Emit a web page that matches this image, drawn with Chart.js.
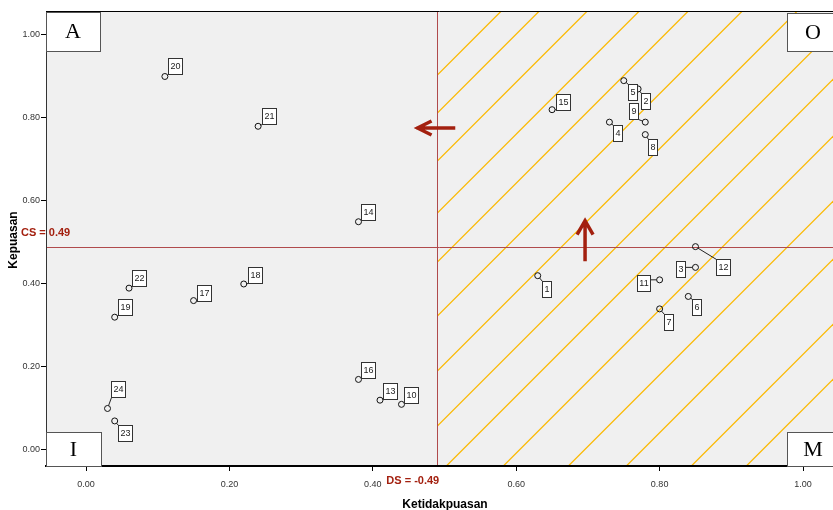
<!DOCTYPE html>
<html>
<head>
<meta charset="utf-8">
<script src="https://cdn.jsdelivr.net/npm/chart.js@4"></script>
<style>
  body { margin: 0; background: #fff; }
  #wrap { width: 833px; height: 510px; }
</style>
</head>
<body>
<div id="wrap"><canvas id="ipaChart" width="833" height="510"></canvas></div>
<script>
// attribute numbers and their scores
const atribut = ["1","2","3","4","5","6","7","8","9","10","11","12","13","14","15","16","17","18","19","20","21","22","23","24"];
const ketidakpuasan = [0.63,0.77,0.85,0.73,0.75,0.84,0.80,0.78,0.78,0.44,0.80,0.85,0.41,0.38,0.65,0.38,0.15,0.22,0.04,0.11,0.24,0.06,0.04,0.03];
const kepuasan      = [0.42,0.87,0.44,0.79,0.89,0.37,0.34,0.76,0.79,0.11,0.41,0.49,0.12,0.55,0.82,0.17,0.36,0.40,0.32,0.90,0.78,0.39,0.07,0.10];

const xTicks = [0.0, 0.2, 0.4, 0.6, 0.8, 1.0];
const yTicks = [0.0, 0.2, 0.4, 0.6, 0.8, 1.0];
const csValue = 0.49;   // horizontal cut
const dsValue = 0.49;   // vertical cut
const csText = "CS = 0.49";
const dsText = "DS = -0.49";
const quadrants = ["A", "O", "I", "M"];

// where each number box sits relative to its point (px)
const labelOffsets = {
  "1":[4,5], "2":[3,4], "3":[-19,-6], "4":[4,3], "5":[4,3], "6":[4,3], "7":[4,5], "8":[3,4],
  "9":[-16,-19], "10":[3,-17], "11":[-23,-5], "12":[21,12], "13":[3,-17], "14":[3,-18],
  "15":[4,-16], "16":[3,-17], "17":[3,-16], "18":[4,-17], "19":[3,-18], "20":[3,-18],
  "21":[4,-18], "22":[3,-18], "23":[3,4], "24":[3,-27]
};
// gaps between the hatch strokes (px), the fill pattern is not quite even
const hatchGaps = [38, 48, 52, 49, 54, 55, 55, 49, 57, 65, 58, 65, 55, 60, 60, 60];

const narrow = '"Liberation Sans Narrow", "Arial Narrow", "Liberation Sans", Arial, sans-serif';
const sans = '"Liberation Sans", Arial, sans-serif';
const red = "#a3200f";

const points = atribut.map((a, i) => ({ x: ketidakpuasan[i], y: kepuasan[i], id: a }));

const ipaPlugin = {
  id: "ipa",
  beforeDraw(chart) {
    const { ctx, chartArea: ca, scales } = chart;
    const xs = scales.x, ys = scales.y;
    ctx.save();
    ctx.fillStyle = "#f0f0f0";
    ctx.fillRect(ca.left, ca.top, ca.right - ca.left, ca.bottom - ca.top);

    // hatched "O/M" side
    const xd = xs.getPixelForValue(dsValue);
    ctx.beginPath();
    ctx.rect(xd, ca.top, ca.right - xd, ca.bottom - ca.top);
    ctx.clip();
    ctx.strokeStyle = "#fbb900";
    ctx.lineWidth = 1.3;
    let c = xd + ca.top + 63;
    for (let k = 0; k <= hatchGaps.length; k++) {
      ctx.beginPath();
      ctx.moveTo(xd - 10, c - xd + 10);
      ctx.lineTo(ca.right + 10, c - ca.right - 10);
      ctx.stroke();
      c += hatchGaps[k] || 60;
    }
    ctx.restore();

    ctx.save();
    ctx.strokeStyle = "#b04a4c";
    ctx.lineWidth = 1;
    const yc = Math.round(ys.getPixelForValue(csValue)) + 0.5;
    ctx.beginPath();
    ctx.moveTo(ca.left, yc); ctx.lineTo(ca.right, yc);
    ctx.stroke();
    const xdr = Math.round(xd) + 0.5;
    ctx.beginPath();
    ctx.moveTo(xdr, ca.top); ctx.lineTo(xdr, ca.bottom);
    ctx.stroke();
    ctx.restore();
  },
  afterDatasetsDraw(chart) {
    const { ctx, chartArea: ca, scales } = chart;
    const xs = scales.x, ys = scales.y;
    ctx.save();

    // number boxes + leader lines
    ctx.font = "9px " + sans;
    ctx.textAlign = "center";
    ctx.textBaseline = "middle";
    points.forEach(p => {
      const px = xs.getPixelForValue(p.x), py = ys.getPixelForValue(p.y);
      const off = labelOffsets[p.id] || [3, -18];
      const w = Math.round(ctx.measureText(p.id).width) + 4, h = 16;
      const bx = Math.round(px + off[0]) + 0.5, by = Math.round(py + off[1]) + 0.5;
      const nx = Math.min(Math.max(px, bx), bx + w), ny = Math.min(Math.max(py, by), by + h);
      const d = Math.hypot(nx - px, ny - py);
      if (d > 3) {
        ctx.strokeStyle = "#222";
        ctx.lineWidth = 1;
        ctx.beginPath();
        ctx.moveTo(px + (nx - px) * 3 / d, py + (ny - py) * 3 / d);
        ctx.lineTo(nx, ny);
        ctx.stroke();
      }
      ctx.fillStyle = "#fff";
      ctx.fillRect(bx, by, w, h);
      ctx.strokeStyle = "#333";
      ctx.strokeRect(bx, by, w, h);
      ctx.fillStyle = "#222";
      ctx.fillText(p.id, bx + w / 2, by + h / 2 + 0.5);
    });

    // quadrant letter boxes
    const boxes = [
      [ca.left, ca.top, 54, 39],
      [787, ca.top + 1, 60, 38],
      [ca.left, 432, 55, ca.bottom - 432],
      [787, 432, 60, ca.bottom - 432]
    ];
    ctx.font = "22px \"Liberation Serif\", \"Times New Roman\", serif";
    boxes.forEach((b, i) => {
      ctx.fillStyle = "#fff";
      ctx.fillRect(b[0] + 0.5, b[1] + 0.5, b[2], b[3]);
      ctx.strokeStyle = "#555";
      ctx.lineWidth = 1;
      ctx.strokeRect(b[0] + 0.5, b[1] + 0.5, b[2], b[3]);
      ctx.fillStyle = "#000";
      const cx = i % 2 === 0 ? b[0] + b[2] / 2 : 813;
      ctx.fillText(quadrants[i], cx, b[1] + b[3] / 2 + 1);
    });

    // arrows
    ctx.strokeStyle = red;
    ctx.lineWidth = 3.5;
    ctx.lineCap = "butt";
    const ay = ys.getPixelForValue(0.776);
    const ax0 = xs.getPixelForValue(0.515), ax1 = xs.getPixelForValue(0.461);
    ctx.beginPath();
    ctx.moveTo(ax0, ay); ctx.lineTo(ax1, ay);
    ctx.moveTo(ax1 + 15, ay - 7); ctx.lineTo(ax1 + 1, ay); ctx.lineTo(ax1 + 15, ay + 7);
    ctx.stroke();
    const ux = xs.getPixelForValue(0.696);
    const uy0 = ys.getPixelForValue(0.455), uy1 = ys.getPixelForValue(0.555);
    ctx.beginPath();
    ctx.moveTo(ux, uy0); ctx.lineTo(ux, uy1);
    ctx.moveTo(ux - 8, uy1 + 15); ctx.lineTo(ux, uy1 + 1); ctx.lineTo(ux + 8, uy1 + 15);
    ctx.stroke();

    // CS / DS captions
    ctx.fillStyle = red;
    ctx.font = "bold 11px " + narrow;
    ctx.textAlign = "left";
    ctx.fillText(csText, 21, ys.getPixelForValue(csValue) - 14);
    ctx.fillText(dsText, xs.getPixelForValue(dsValue) - 51, ca.bottom + 15);

    // top frame line
    ctx.strokeStyle = "#000";
    ctx.lineWidth = 1;
    ctx.beginPath();
    ctx.moveTo(ca.left, ca.top - 0.5); ctx.lineTo(ca.right, ca.top - 0.5);
    ctx.stroke();

    // axis titles
    ctx.fillStyle = "#000";
    ctx.font = "bold 12px " + sans;
    ctx.textAlign = "center";
    ctx.fillText("Ketidakpuasan", 445, 505);
    ctx.translate(14, 240);
    ctx.rotate(-Math.PI / 2);
    ctx.fillText("Kepuasan", 0, 0);
    ctx.restore();
  }
};

new Chart(document.getElementById("ipaChart"), {
  type: "scatter",
  data: {
    datasets: [{
      data: points,
      pointStyle: "circle",
      pointRadius: 3,
      pointHoverRadius: 3,
      pointBackgroundColor: "rgba(0,0,0,0)",
      pointBorderColor: "#111",
      pointBorderWidth: 1
    }]
  },
  options: {
    responsive: false,
    animation: false,
    events: [],
    layout: { autoPadding: false, padding: { top: 12, left: 0, right: 0, bottom: 0 } },
    plugins: { legend: { display: false }, tooltip: { enabled: false } },
    scales: {
      x: {
        type: "linear",
        min: -0.0558,
        max: 1.0418,
        afterFit: s => { s.height = 44; s.paddingLeft = 0; s.paddingRight = 0; },
        afterBuildTicks: s => { s.ticks = xTicks.map(v => ({ value: v })); },
        grid: { drawOnChartArea: false, drawTicks: true, tickLength: 5, color: "#000" },
        border: { color: "#000", width: 2 },
        ticks: {
          padding: 8,
          color: "#333",
          font: { family: narrow, size: 9 },
          callback: v => Number(v).toFixed(2)
        }
      },
      y: {
        type: "linear",
        min: -0.0386,
        max: 1.0554,
        afterFit: s => { s.width = 46; s.paddingTop = 0; s.paddingBottom = 0; },
        afterBuildTicks: s => { s.ticks = yTicks.map(v => ({ value: v })); },
        grid: { drawOnChartArea: false, drawTicks: true, tickLength: 5, color: "#000" },
        border: { color: "#333", width: 1 },
        ticks: {
          padding: 1,
          color: "#333",
          font: { family: narrow, size: 9 },
          callback: v => Number(v).toFixed(2)
        }
      }
    }
  },
  plugins: [ipaPlugin]
});
</script>
</body>
</html>
